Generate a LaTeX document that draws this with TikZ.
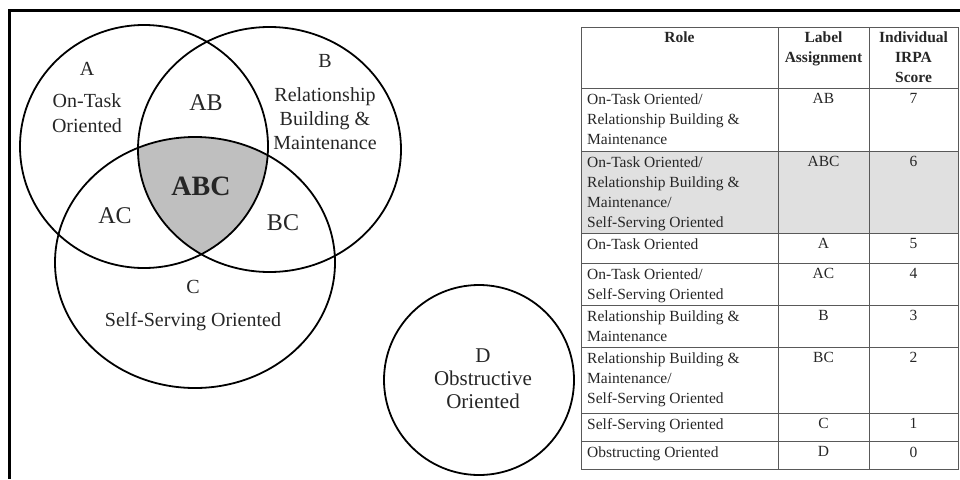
\documentclass[tikz,border=0pt]{standalone}
\usepackage{fontspec}
\setmainfont{Liberation Serif}
\begin{document}
\begin{tikzpicture}[x=1pt,y=-1pt,
  venncirc/.style={line width=1.8pt, draw=black},
  vennlbl/.style={inner sep=0pt, text=black!85, font=\fontsize{20}{24}\selectfont, align=center},
  pairlbl/.style={vennlbl, font=\fontsize{24}{28}\selectfont},
  celltxt/.style={inner sep=0pt, text=black!85, font=\fontsize{15.5}{20}\selectfont, align=left},
  headtxt/.style={celltxt, font=\fontsize{15.5}{20}\selectfont\bfseries, align=center},
  tabline/.style={line width=1pt, draw=black!65}]
\useasboundingbox (0,0) rectangle (960,479);
% frame, cut off at the right and at the bottom
\draw[line width=3pt] (960,10) -- (9.5,10) -- (9.5,479);

% shaded centre A and B and C
\begin{scope}
\clip (144,146.5) ellipse [x radius=124pt, y radius=121.5pt];
\clip (269.5,149.5) ellipse [x radius=131.5pt, y radius=122.5pt];
\fill[black!25] (195,262.5) ellipse [x radius=140pt, y radius=125.5pt];
\end{scope}
\draw[venncirc] (144,146.5) ellipse [x radius=124pt, y radius=121.5pt];
\draw[venncirc] (269.5,149.5) ellipse [x radius=131.5pt, y radius=122.5pt];
\draw[venncirc] (195,262.5) ellipse [x radius=140pt, y radius=125.5pt];
\draw[venncirc] (479,380) circle [radius=95pt];

% venn labels
\node[vennlbl, anchor=base] (lblA) at (87,75) {A};
\node[vennlbl, font=\fontsize{20}{25}\selectfont, anchor=north] (roleA) at (87,93.5) {On-Task\\Oriented};
\node[vennlbl, anchor=base] (lblB) at (325,67) {B};
\node[vennlbl, anchor=north] (roleB) at (325,87.3) {Relationship\\Building \&\\Maintenance};
\node[pairlbl, anchor=base] (lblAB) at (206,110) {AB};
\node[vennlbl, font=\fontsize{28}{32}\selectfont\bfseries, anchor=base] (lblABC) at (201,195) {ABC};
\node[pairlbl, anchor=base] (lblAC) at (115,223) {AC};
\node[pairlbl, anchor=base] (lblBC) at (283,230) {BC};
\node[vennlbl, anchor=base] (lblC) at (193,293) {C};
\node[vennlbl, anchor=base] (roleC) at (193,326) {Self-Serving Oriented};
\node[vennlbl, font=\fontsize{21}{23}\selectfont, anchor=north] (roleD) at (483,349) {D\\Obstructive\\Oriented};

% table
\fill[black!12] (581,151) rectangle (958,233);
\draw[tabline] (581,27) rectangle (958,469);
\draw[tabline] (778,27) -- (778,469) (869,27) -- (869,469);
\foreach \y in {88,151,233,263,305,347,413,441}
  \draw[tabline] (581,\y) -- (958,\y);

\node[headtxt, anchor=north] (hRole) at (679.5,32) {Role};
\node[headtxt, anchor=north] (hLabel) at (823.5,32) {Label\\Assignment};
\node[headtxt, anchor=north] (hScore) at (913.5,32) {Individual\\IRPA\\Score};

\node[celltxt, anchor=north west] (roleAB) at (587,93.5) {On-Task Oriented/\\Relationship Building \&\\Maintenance};
\node[celltxt, anchor=north] (labAB) at (823.5,93.5) {AB};
\node[celltxt, anchor=north] (scoAB) at (913.5,93.5) {7};

\node[celltxt, anchor=north west] (roleABC) at (587,156.5) {On-Task Oriented/\\Relationship Building \&\\Maintenance/\\Self-Serving Oriented};
\node[celltxt, anchor=north] (labABC) at (823.5,156.5) {ABC};
\node[celltxt, anchor=north] (scoABC) at (913.5,156.5) {6};

\node[celltxt, anchor=north west] (roleA) at (587,238.5) {On-Task Oriented};
\node[celltxt, anchor=north] (labA) at (823.5,238.5) {A};
\node[celltxt, anchor=north] (scoA) at (913.5,238.5) {5};

\node[celltxt, anchor=north west] (roleAC) at (587,268.5) {On-Task Oriented/\\Self-Serving Oriented};
\node[celltxt, anchor=north] (labAC) at (823.5,268.5) {AC};
\node[celltxt, anchor=north] (scoAC) at (913.5,268.5) {4};

\node[celltxt, anchor=north west] (roleBB) at (587,310.5) {Relationship Building \&\\Maintenance};
\node[celltxt, anchor=north] (labB) at (823.5,310.5) {B};
\node[celltxt, anchor=north] (scoB) at (913.5,310.5) {3};

\node[celltxt, anchor=north west] (roleBC) at (587,352.5) {Relationship Building \&\\Maintenance/\\Self-Serving Oriented};
\node[celltxt, anchor=north] (labBC) at (823.5,352.5) {BC};
\node[celltxt, anchor=north] (scoBC) at (913.5,352.5) {2};

\node[celltxt, anchor=north west] (roleCC) at (587,418.5) {Self-Serving Oriented};
\node[celltxt, anchor=north] (labC) at (823.5,418.5) {C};
\node[celltxt, anchor=north] (scoC) at (913.5,418.5) {1};

\node[celltxt, anchor=north west] (roleDD) at (587,446.5) {Obstructing Oriented};
\node[celltxt, anchor=north] (labD) at (823.5,446.5) {D};
\node[celltxt, anchor=north] (scoD) at (913.5,446.5) {0};
\end{tikzpicture}
\end{document}
